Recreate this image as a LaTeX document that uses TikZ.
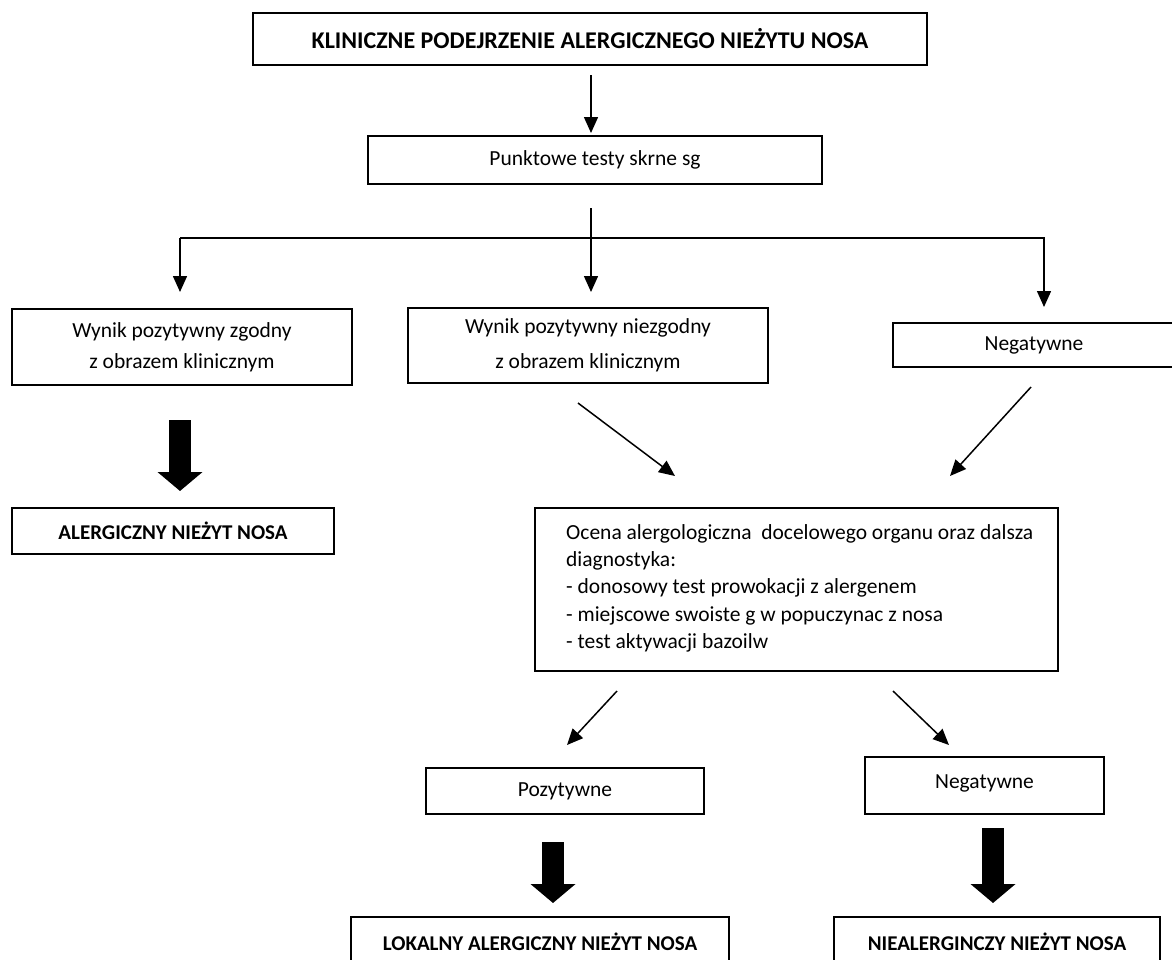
\documentclass[tikz,border=0pt]{standalone}
\usepackage{fontspec}
\setmainfont{Carlito}
\usetikzlibrary{arrows.meta}
\tikzset{
  box/.style={draw, line width=1.8pt, rectangle, inner sep=0pt, align=center, font=\fontsize{21.5}{31}\selectfont},
  boldbox/.style={box, font=\fontsize{21}{24}\selectfont\bfseries},
  thin/.style={line width=1.5pt, -{Triangle[length=16pt,width=14pt]}},
  plain/.style={line width=1.5pt},
  thick/.style={line width=22pt, -{Triangle[length=19pt,width=44pt]}},
}
\begin{document}
\begin{tikzpicture}[x=1pt,y=-1pt]
\clip (0,0) rectangle (1172,959);
\useasboundingbox (0,0) rectangle (1172,959);
\fill[white] (0,0) rectangle (1172,959);

\node[boldbox, font=\fontsize{24}{26}\selectfont\bfseries, minimum width=674pt, minimum height=52pt] (top) at (590,39) {KLINICZNE PODEJRZENIE ALERGICZNEGO NIEŻYTU NOSA};
\node[box, minimum width=454pt, minimum height=48pt] (punkt) at (595,160) {Punktowe testy skrne sg};
\node[box, minimum width=340pt, minimum height=76pt] (w1) at (182,347) {Wynik pozytywny zgodny\\z obrazem klinicznym};
\node[box, minimum width=360pt, minimum height=75pt, font=\fontsize{21.5}{35}\selectfont] (w2) at (588,345.5) {Wynik pozytywny niezgodny\\z obrazem klinicznym};
\node[box, minimum width=282pt, minimum height=44pt] (neg1) at (1034,345) {Negatywne};
\node[boldbox, minimum width=322pt, minimum height=46pt] (aler) at (173,531) {ALERGICZNY NIEŻYT NOSA};
\node[box, minimum width=523pt, minimum height=163pt] (ocena) at (796.5,589.5) {};
\node[anchor=north west, align=left, inner sep=0pt, font=\fontsize{21.5}{27.3}\selectfont] (ocenatxt) at (566,524) {Ocena alergologiczna\ \ docelowego organu oraz dalsza\\diagnostyka:\\- donosowy test prowokacji z alergenem\\- miejscowe swoiste g w popuczynac z nosa\\- test aktywacji bazoilw};
\node[box, minimum width=278pt, minimum height=46pt] (poz) at (565,791) {Pozytywne};
\node[box, minimum width=239pt, minimum height=57pt, text depth=7pt] (neg2) at (984.5,785.5) {Negatywne};
\node[boldbox, minimum width=378pt, minimum height=50pt] (lok) at (540,942) {LOKALNY ALERGICZNY NIEŻYT NOSA};
\node[boldbox, minimum width=326pt, minimum height=50pt] (niealer) at (997,942) {NIEALERGINCZY NIEŻYT NOSA};

% free ends of connectors
\coordinate (a1s) at (591,75);
\coordinate (a1e) at (591,133);
\coordinate (bs) at (591,208);
\coordinate (bm) at (591,238);
\coordinate (be) at (591,292);
\coordinate (bl) at (180,238);
\coordinate (ble) at (180,292);
\coordinate (br) at (1044,238);
\coordinate (bre) at (1044,307);
\coordinate (d1s) at (578,403);
\coordinate (d1e) at (675,476);
\coordinate (d2s) at (1031,387);
\coordinate (d2e) at (950,476);
\coordinate (t1s) at (180,420);
\coordinate (t1e) at (180,491);
\coordinate (d3s) at (617,691);
\coordinate (d3e) at (567,745);
\coordinate (d4s) at (893,691);
\coordinate (d4e) at (949,745);
\coordinate (t2s) at (553,842);
\coordinate (t2e) at (553,903);
\coordinate (t3s) at (993,828);
\coordinate (t3e) at (993,903);

\draw[thin] (a1s) -- (a1e);
\draw[plain] (bs) -- (bm);
\draw[thin] (bm) -- (be);
\draw[plain] (bl) -- (br);
\draw[thin] (bl) -- (ble);
\draw[thin] ([yshift=1pt]br) -- (bre);
\draw[thin] (d1s) -- (d1e);
\draw[thin] (d2s) -- (d2e);
\draw[thick] (t1s) -- (t1e);
\draw[thin] (d3s) -- (d3e);
\draw[thin] (d4s) -- (d4e);
\draw[thick] (t2s) -- (t2e);
\draw[thick] (t3s) -- (t3e);
\end{tikzpicture}
\end{document}
